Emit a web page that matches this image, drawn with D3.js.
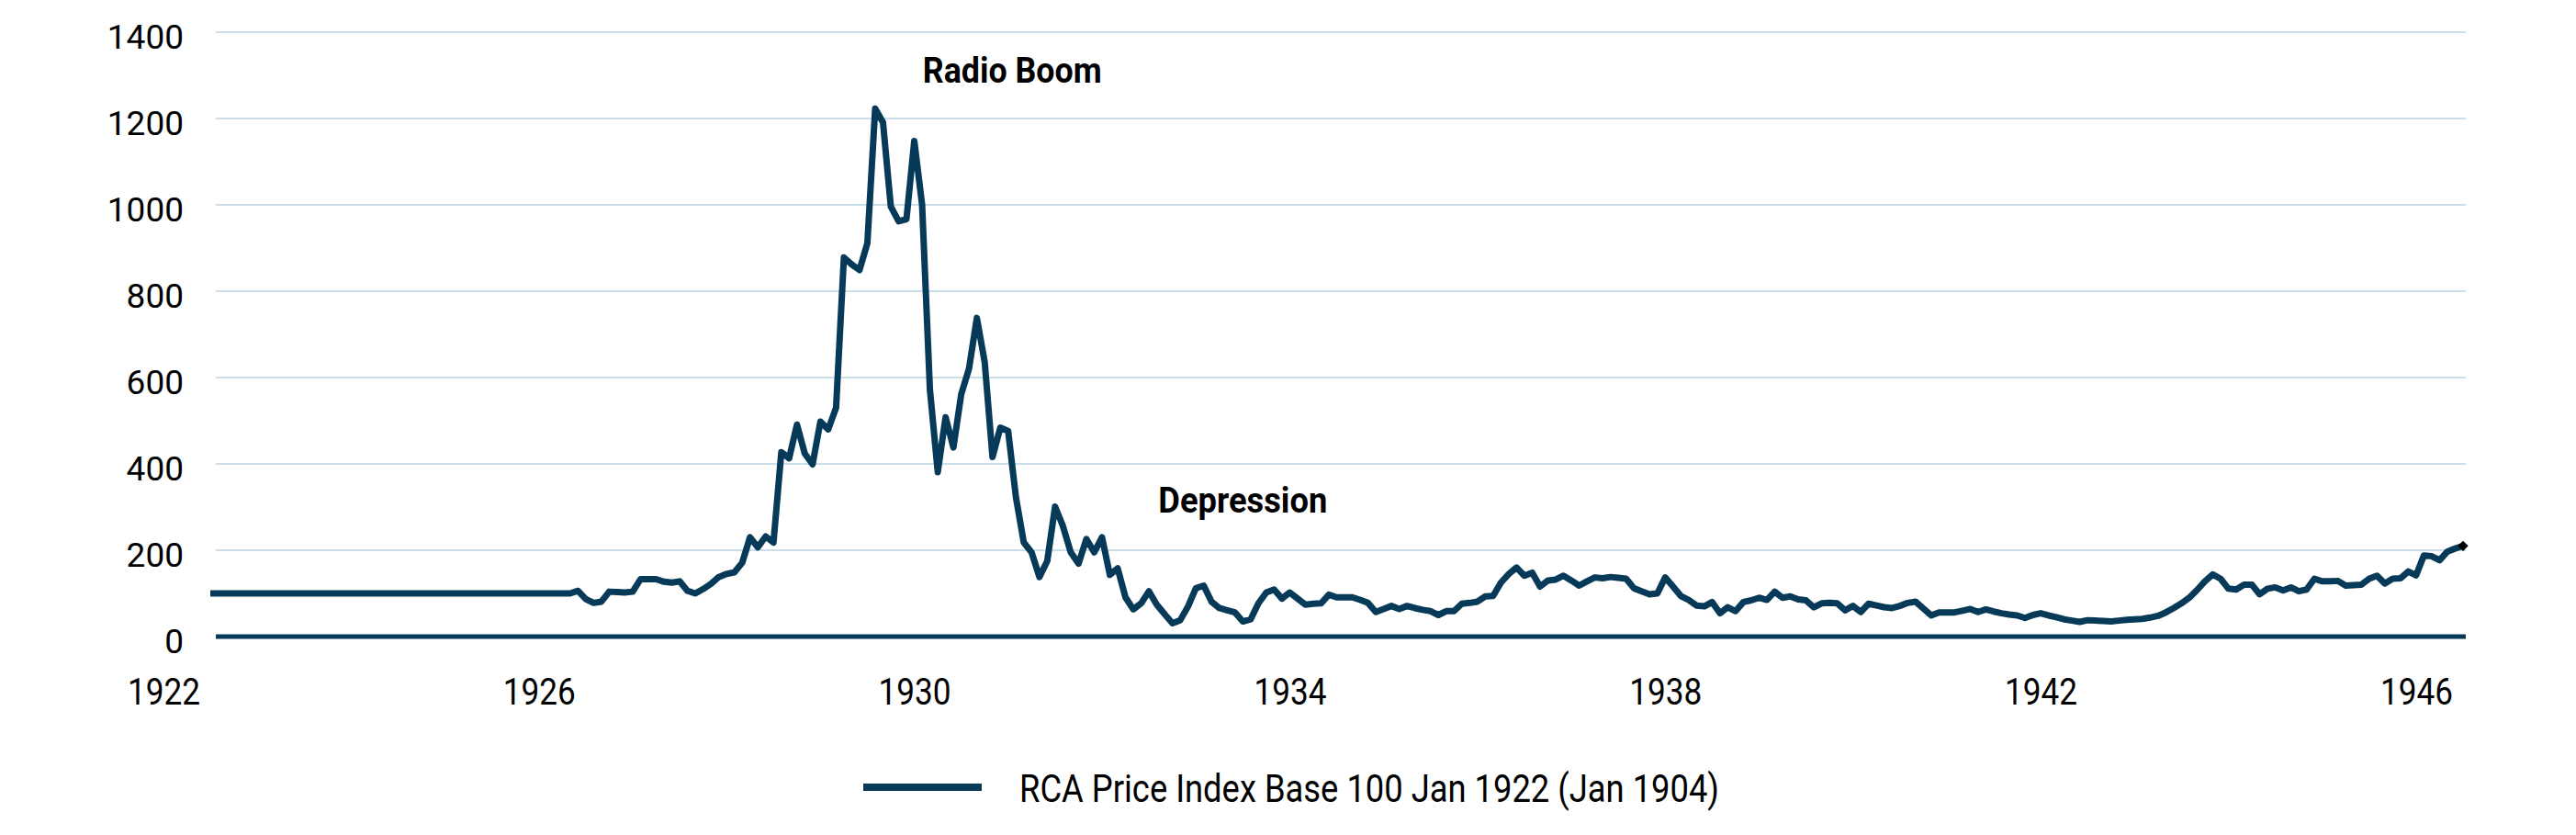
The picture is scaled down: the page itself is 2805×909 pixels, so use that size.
<!DOCTYPE html>
<html>
<head>
<meta charset="utf-8">
<script src="https://cdn.jsdelivr.net/npm/d3@7"></script>
<style>
  body { margin: 0; background: #fff; }
  svg { display: block; font-family: Roboto, 'Noto Sans', sans-serif; }
</style>
</head>
<body>
<svg id="chart" width="2805" height="909"></svg>
<script>
// monthly series, first point mid 1922
let seriesName = 'RCA Price Index Base 100 Jan 1922 (Jan 1904)'
let startYear = 1922.5
let values = [
  100, 100, 100, 100, 100, 100, 100, 100, 100, 100, 100, 100,
  100, 100, 100, 100, 100, 100, 100, 100, 100, 100, 100, 100,
  100, 100, 100, 100, 100, 100, 100, 100, 100, 100, 100, 100,
  100, 100, 100, 100, 100, 100, 100, 100, 100, 100, 100, 106,
  87, 78, 81, 104, 103, 102, 104, 133, 133, 133, 127, 125,
  128, 106, 100, 110, 122, 138, 145, 149, 171, 230, 207, 232,
  218, 427, 413, 491, 424, 399, 498, 480, 530, 878, 862, 849,
  911, 1223, 1191, 996, 962, 967, 1148, 1000, 572, 381, 508, 438,
  561, 621, 738, 636, 416, 484, 476, 322, 218, 195, 138, 175,
  301, 256, 195, 169, 226, 195, 230, 143, 158, 91, 63, 77,
  105, 74, 52, 31, 38, 70, 112, 118, 81, 66, 61, 56,
  35, 40, 77, 102, 109, 88, 102, 88, 74, 76, 77, 97,
  91, 91, 91, 85, 78, 57, 64, 71, 64, 71, 66, 62,
  59, 50, 59, 59, 76, 78, 81, 93, 94, 125, 145, 160,
  141, 148, 116, 130, 132, 141, 130, 118, 128, 137, 135, 138,
  136, 134, 112, 105, 98, 100, 137, 116, 94, 85, 72, 70,
  80, 54, 68, 59, 80, 84, 90, 85, 104, 90, 93, 86,
  84, 68, 77, 78, 77, 61, 71, 57, 76, 72, 68, 66,
  71, 78, 81, 65, 49, 56, 56, 56, 60, 64, 57, 63,
  58, 54, 51, 49, 43, 50, 54, 49, 45, 40, 37, 34,
  38, 37, 36, 35, 37, 39, 40, 41, 44, 48, 56, 66,
  77, 90, 108, 128, 144, 134, 111, 109, 120, 120, 98, 111,
  114, 107, 114, 105, 109, 134, 128, 128, 129, 118, 119, 120,
  134, 141, 123, 134, 135, 151, 142, 188, 186, 177, 197, 204,
  210
]
let yTicks = [0, 200, 400, 600, 800, 1000, 1200, 1400]
let xTicks = [1922, 1926, 1930, 1934, 1938, 1942, 1946]
let notes = [
  { label: 'Radio Boom', year: 1930.09, value: 1283, width: 195 },
  { label: 'Depression', year: 1932.6, value: 287, width: 184 }
]

let navy = '#073a58'
let grid = '#cadfea'

let data = values.map(function (v, i) {
  return { t: startYear + i / 12, v: v }
})

let svg = d3.select('#chart')

let x = d3.scaleLinear()
  .domain([startYear, startYear + (values.length - 1) / 12])
  .range([229, 2682])

let y = d3.scaleLinear()
  .domain([0, 1400])
  .range([693, 35])

// gridlines
svg.append('g')
  .attr('class', 'grid')
  .selectAll('line')
  .data(yTicks.slice(1))
  .enter().append('line')
  .attr('x1', 235)
  .attr('x2', 2685)
  .attr('y1', function (d) { return y(d) })
  .attr('y2', function (d) { return y(d) })
  .attr('stroke', grid)
  .attr('stroke-width', 2)

// y axis labels
let yAxis = svg.append('g')
  .attr('transform', 'translate(235,0)')
  .call(d3.axisLeft(y).tickValues(yTicks).tickFormat(d3.format('d')).tickSize(0).tickPadding(35))
yAxis.select('.domain').remove()
yAxis.selectAll('text')
  .attr('dy', '0.46em')
  .style('font-size', '37px')
  .style('font-family', 'Roboto')
  .attr('fill', '#000')

// x axis labels
let xAxis = svg.append('g')
  .attr('transform', 'translate(0,' + y(0) + ')')
  .call(d3.axisBottom(x).tickValues(xTicks).tickFormat(d3.format('d')).tickSize(0))
xAxis.select('.domain').remove()
xAxis.selectAll('text')
  .attr('y', 74)
  .attr('dy', 0)
  .style('font-size', '41px')
  .style('font-family', 'Roboto')
  .attr('fill', '#000')
  .attr('textLength', 79)
  .attr('lengthAdjust', 'spacingAndGlyphs')

// zero line
svg.append('line')
  .attr('x1', 235)
  .attr('x2', 2685)
  .attr('y1', y(0))
  .attr('y2', y(0))
  .attr('stroke', navy)
  .attr('stroke-width', 5)

let line = d3.line()
  .x(function (d) { return x(d.t) })
  .y(function (d) { return y(d.v) })

svg.append('path')
  .datum(data)
  .attr('fill', 'none')
  .attr('stroke', navy)
  .attr('stroke-width', 7)
  .attr('stroke-linejoin', 'round')
  .attr('d', line)

// little black marker on the last point
let last = data[data.length - 1]
svg.append('rect')
  .attr('x', -4)
  .attr('y', -4)
  .attr('width', 8)
  .attr('height', 8)
  .attr('fill', '#000')
  .attr('transform', 'translate(' + x(last.t) + ',' + y(last.v) + ') rotate(45)')

// annotations
svg.append('g')
  .selectAll('text')
  .data(notes)
  .enter().append('text')
  .attr('x', function (d) { return x(d.year) })
  .attr('y', function (d) { return y(d.value) })
  .attr('textLength', function (d) { return d.width })
  .attr('lengthAdjust', 'spacingAndGlyphs')
  .style('font-family', 'Roboto')
  .style('font-weight', 'bold')
  .style('font-size', '38px')
  .attr('fill', '#000')
  .text(function (d) { return d.label })

// legend
let legend = svg.append('g').attr('class', 'legend')
legend.append('line')
  .attr('x1', 940)
  .attr('x2', 1069)
  .attr('y1', 857)
  .attr('y2', 857)
  .attr('stroke', navy)
  .attr('stroke-width', 8)
legend.append('text')
  .attr('x', 1110)
  .attr('y', 873)
  .attr('textLength', 762)
  .attr('lengthAdjust', 'spacingAndGlyphs')
  .style('font-family', 'Roboto')
  .style('font-size', '42px')
  .attr('fill', '#000')
  .text(seriesName)
</script>
</body>
</html>
